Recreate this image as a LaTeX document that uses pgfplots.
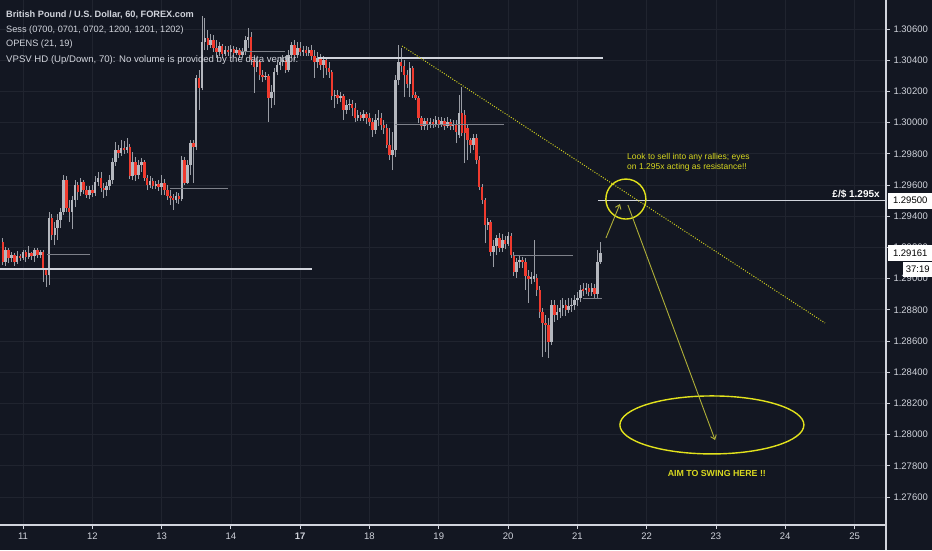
\documentclass[border=0pt]{standalone}
\usepackage{pgfplots}
\pgfplotsset{compat=1.18}
\usepackage{pgfplotstable}
\usepackage{fontspec}
\setmainfont{Liberation Sans}
\usetikzlibrary{arrows.meta}
\definecolor{bgc}{HTML}{131722}
\definecolor{gridc}{HTML}{20242F}
\definecolor{txtc}{HTML}{D1D4DC}
\definecolor{axc}{HTML}{D1D4DC}
\definecolor{upc}{HTML}{B4B7BE}
\definecolor{dnc}{HTML}{F03A2E}
\definecolor{wickc}{HTML}{9A9DA5}
\definecolor{linec}{HTML}{D1D4DC}
\definecolor{thinc}{HTML}{7D8089}
\definecolor{circc}{HTML}{E2E21C}
\definecolor{trendc}{HTML}{CFCF20}
\definecolor{arrc}{HTML}{AFAF38}
\definecolor{ytxt}{HTML}{D8D820}

% hourly candles: h = hour index (0 = start of the 11th), prices o/hi/lo/c
\pgfplotstableread{
h o hi lo c
-7 1.29235 1.29260 1.29087 1.29106
-6 1.29106 1.29203 1.29081 1.29183
-5 1.29183 1.29196 1.29100 1.29132
-4 1.29132 1.29171 1.29106 1.29151
-3 1.29151 1.29164 1.29081 1.29106
-2 1.29106 1.29177 1.29094 1.29145
-1 1.29145 1.29158 1.29113 1.29132
0 1.29132 1.29183 1.29119 1.29171
1 1.29171 1.29183 1.29106 1.29138
2 1.29138 1.29209 1.29126 1.29164
3 1.29164 1.29171 1.29119 1.29145
4 1.29145 1.29196 1.29106 1.29183
5 1.29183 1.29196 1.29132 1.29151
6 1.29151 1.29183 1.29132 1.29171
7 1.29171 1.29183 1.28978 1.29055
8 1.29055 1.29068 1.28946 1.29023
9 1.29023 1.29427 1.28959 1.29388
10 1.29388 1.29414 1.29247 1.29279
11 1.29279 1.29363 1.29215 1.29324
12 1.29324 1.29414 1.29247 1.29376
13 1.29376 1.29453 1.29324 1.29427
14 1.29427 1.29664 1.29408 1.29632
15 1.29632 1.29658 1.29427 1.29453
16 1.29453 1.29504 1.29363 1.29427
17 1.29427 1.29529 1.29318 1.29504
18 1.29504 1.29632 1.29459 1.29600
19 1.29600 1.29619 1.29504 1.29555
20 1.29555 1.29645 1.29529 1.29619
21 1.29619 1.29632 1.29542 1.29568
22 1.29568 1.29594 1.29517 1.29536
23 1.29536 1.29594 1.29510 1.29568
24 1.29568 1.29600 1.29523 1.29549
25 1.29549 1.29658 1.29529 1.29619
26 1.29619 1.29683 1.29594 1.29645
27 1.29645 1.29683 1.29555 1.29581
28 1.29581 1.29613 1.29517 1.29568
29 1.29568 1.29619 1.29529 1.29594
30 1.29594 1.29664 1.29568 1.29632
31 1.29632 1.29773 1.29606 1.29747
32 1.29747 1.29876 1.29722 1.29824
33 1.29824 1.29856 1.29773 1.29805
34 1.29805 1.29888 1.29786 1.29837
35 1.29837 1.29882 1.29799 1.29824
36 1.29824 1.29901 1.29805 1.29844
37 1.29844 1.29863 1.29638 1.29658
38 1.29658 1.29812 1.29632 1.29747
39 1.29747 1.29780 1.29626 1.29664
40 1.29664 1.29760 1.29638 1.29728
41 1.29728 1.29773 1.29683 1.29747
42 1.29747 1.29760 1.29626 1.29645
43 1.29645 1.29664 1.29568 1.29600
44 1.29600 1.29658 1.29581 1.29626
45 1.29626 1.29645 1.29574 1.29594
46 1.29594 1.29626 1.29574 1.29606
47 1.29606 1.29632 1.29562 1.29587
48 1.29587 1.29664 1.29536 1.29613
49 1.29613 1.29638 1.29536 1.29568
50 1.29568 1.29600 1.29504 1.29529
51 1.29529 1.29568 1.29472 1.29517
52 1.29517 1.29542 1.29440 1.29504
53 1.29504 1.29555 1.29485 1.29529
54 1.29529 1.29549 1.29478 1.29510
55 1.29510 1.29786 1.29497 1.29760
56 1.29760 1.29780 1.29600 1.29613
57 1.29613 1.29760 1.29606 1.29728
58 1.29728 1.29888 1.29664 1.29869
59 1.29869 1.29888 1.29613 1.29844
60 1.29844 1.30305 1.29824 1.30286
61 1.30286 1.30337 1.30081 1.30222
62 1.30222 1.30683 1.30209 1.30517
63 1.30517 1.30671 1.30465 1.30542
64 1.30542 1.30594 1.30465 1.30497
65 1.30497 1.30568 1.30478 1.30529
66 1.30529 1.30562 1.30453 1.30478
67 1.30478 1.30529 1.30414 1.30453
68 1.30453 1.30517 1.30427 1.30491
69 1.30491 1.30504 1.30414 1.30440
70 1.30440 1.30491 1.30427 1.30465
71 1.30465 1.30491 1.30427 1.30453
72 1.30453 1.30497 1.30427 1.30472
73 1.30472 1.30491 1.30421 1.30446
74 1.30446 1.30485 1.30433 1.30465
75 1.30465 1.30478 1.30414 1.30433
76 1.30433 1.30478 1.30414 1.30453
77 1.30453 1.30555 1.30433 1.30529
78 1.30529 1.30606 1.30478 1.30549
79 1.30549 1.30581 1.30369 1.30401
80 1.30401 1.30433 1.30190 1.30356
81 1.30356 1.30414 1.30324 1.30388
82 1.30388 1.30401 1.30273 1.30305
83 1.30305 1.30337 1.30260 1.30292
84 1.30292 1.30324 1.30273 1.30299
85 1.30299 1.30312 1.30004 1.30158
86 1.30158 1.30241 1.30094 1.30196
87 1.30196 1.30350 1.30113 1.30324
88 1.30324 1.30401 1.30305 1.30369
89 1.30369 1.30421 1.30337 1.30388
90 1.30388 1.30433 1.30363 1.30401
91 1.30401 1.30427 1.30318 1.30337
92 1.30337 1.30465 1.30324 1.30433
93 1.30433 1.30517 1.30414 1.30497
94 1.30497 1.30529 1.30401 1.30433
95 1.30433 1.30517 1.30414 1.30478
96 1.30478 1.30517 1.30427 1.30453
97 1.30453 1.30491 1.30427 1.30465
98 1.30465 1.30491 1.30427 1.30446
99 1.30446 1.30485 1.30427 1.30465
100 1.30465 1.30497 1.30401 1.30427
101 1.30427 1.30465 1.30286 1.30388
102 1.30388 1.30453 1.30350 1.30414
103 1.30414 1.30440 1.30337 1.30369
104 1.30369 1.30427 1.30286 1.30401
105 1.30401 1.30421 1.30305 1.30350
106 1.30350 1.30388 1.30286 1.30324
107 1.30324 1.30337 1.30145 1.30171
108 1.30171 1.30209 1.30094 1.30177
109 1.30177 1.30209 1.30119 1.30158
110 1.30158 1.30196 1.30132 1.30171
111 1.30171 1.30183 1.30017 1.30081
112 1.30081 1.30145 1.30055 1.30113
113 1.30113 1.30151 1.30081 1.30119
114 1.30119 1.30145 1.30042 1.30094
115 1.30094 1.30126 1.30004 1.30030
116 1.30030 1.30081 1.30010 1.30049
117 1.30049 1.30068 1.30010 1.30030
118 1.30030 1.30081 1.30010 1.30055
119 1.30055 1.30068 1.29991 1.30030
120 1.30030 1.30062 1.29978 1.30004
121 1.30004 1.30030 1.29908 1.29953
122 1.29953 1.30055 1.29927 1.30017
123 1.30017 1.30081 1.29978 1.30030
124 1.30030 1.30062 1.29953 1.29985
125 1.29985 1.30017 1.29927 1.29965
126 1.29965 1.29991 1.29837 1.29856
127 1.29856 1.29965 1.29760 1.29792
128 1.29792 1.29940 1.29696 1.29824
129 1.29824 1.30305 1.29780 1.30273
130 1.30273 1.30497 1.30241 1.30388
131 1.30388 1.30478 1.30324 1.30363
132 1.30363 1.30401 1.30164 1.30305
133 1.30305 1.30337 1.30222 1.30247
134 1.30247 1.30388 1.30164 1.30350
135 1.30350 1.30363 1.30158 1.30177
136 1.30177 1.30196 1.30145 1.30158
137 1.30158 1.30171 1.29997 1.30030
138 1.30030 1.30042 1.29953 1.29978
139 1.29978 1.30030 1.29953 1.30010
140 1.30010 1.30030 1.29953 1.29985
141 1.29985 1.30030 1.29965 1.30004
142 1.30004 1.30023 1.29965 1.29991
143 1.29991 1.30042 1.29972 1.30017
144 1.30017 1.30036 1.29965 1.29991
145 1.29991 1.30036 1.29972 1.30010
146 1.30010 1.30030 1.29953 1.29978
147 1.29978 1.30036 1.29965 1.30004
148 1.30004 1.30023 1.29953 1.29978
149 1.29978 1.30017 1.29953 1.29991
150 1.29991 1.30017 1.29869 1.29940
151 1.29921 1.30177 1.29901 1.30062
152 1.30062 1.30228 1.29914 1.29933
153 1.30049 1.30081 1.29741 1.29933
154 1.29965 1.29985 1.29760 1.29888
155 1.29888 1.29901 1.29805 1.29856
156 1.29856 1.29927 1.29824 1.29901
157 1.29901 1.29927 1.29735 1.29760
158 1.29760 1.29786 1.29568 1.29587
159 1.29587 1.29606 1.29478 1.29504
160 1.29504 1.29517 1.29228 1.29344
161 1.29344 1.29388 1.29312 1.29363
162 1.29363 1.29376 1.29145 1.29171
163 1.29171 1.29247 1.29074 1.29209
164 1.29209 1.29279 1.29151 1.29260
165 1.29260 1.29292 1.29171 1.29196
166 1.29196 1.29286 1.29171 1.29247
167 1.29247 1.29273 1.29190 1.29222
168 1.29222 1.29299 1.29209 1.29273
169 1.29273 1.29292 1.29132 1.29151
170 1.29151 1.29171 1.29017 1.29042
171 1.29042 1.29132 1.29004 1.29106
172 1.29106 1.29151 1.29068 1.29119
173 1.29119 1.29138 1.29068 1.29106
174 1.29106 1.29132 1.28927 1.29017
175 1.29017 1.29055 1.28844 1.28998
176 1.28998 1.29042 1.28965 1.29010
177 1.28998 1.29247 1.28978 1.29017
178 1.29004 1.29030 1.28889 1.28927
179 1.28927 1.28953 1.28748 1.28786
180 1.28786 1.28812 1.28497 1.28715
181 1.28715 1.28767 1.28530 1.28703
182 1.28703 1.28748 1.28491 1.28594
183 1.28594 1.28863 1.28574 1.28831
184 1.28831 1.28863 1.28722 1.28767
185 1.28767 1.28831 1.28735 1.28786
186 1.28786 1.28863 1.28748 1.28812
187 1.28812 1.28876 1.28761 1.28831
188 1.28831 1.28863 1.28761 1.28799
189 1.28799 1.28876 1.28780 1.28824
190 1.28824 1.28876 1.28786 1.28831
191 1.28831 1.28895 1.28799 1.28863
192 1.28863 1.28914 1.28824 1.28876
193 1.28876 1.28959 1.28850 1.28927
194 1.28934 1.28972 1.28889 1.28921
195 1.28927 1.28972 1.28901 1.28940
196 1.28940 1.28965 1.28889 1.28914
197 1.28914 1.28972 1.28889 1.28940
198 1.28940 1.28965 1.28876 1.28901
199 1.28901 1.29183 1.28876 1.29106
200 1.29106 1.29235 1.29094 1.29161
}\candles

\begin{document}
\begin{tikzpicture}
\useasboundingbox (0,0) rectangle (932pt,550pt);
\fill[bgc] (0,0) rectangle (932pt,550pt);
% y axis unit: pips relative to 1.29000
\begin{axis}[
  at={(0pt,25pt)}, anchor=south west, scale only axis,
  width=886pt, height=525pt,
  xmin=-7.97, xmax=298.9, ymin=-157.95, ymax=178.6,
  axis x line=bottom, axis y line=right,
  axis line style={-, draw=axc, line width=1.1pt},
  tick align=outside, major tick length=4pt,
  tick style={draw=axc, line width=0.8pt},
  xtick={0,24,48,72,96,120,144,168,192,216,240,264,288},
  xticklabels={11,12,13,14,\textbf{17},18,19,20,21,22,23,24,25},
  ytick={-140,-120,-100,-80,-60,-40,-20,0,20,40,60,80,100,120,140,160},
  yticklabels={1.27600,1.27800,1.28000,1.28200,1.28400,1.28600,1.28800,1.29000,1.29200,1.29400,1.29600,1.29800,1.30000,1.30200,1.30400,1.30600},
  tick label style={font=\fontsize{9.5}{10}\selectfont, text=txtc},
  grid=major, major grid style={draw=gridc, line width=0.7pt},
  clip=false,
]
% wicks
\addplot[draw=none, forget plot, error bars/.cd, y dir=plus, y explicit, error mark=none,
  error bar style={draw=wickc, line width=0.9pt, solid}]
  table[x=h, y expr={(\thisrow{lo}-1.29)*10000}, y error plus expr={(\thisrow{hi}-\thisrow{lo})*10000}] {\candles};
% up bodies
\addplot[draw=none, forget plot, restrict expr to domain={(\thisrow{c}-\thisrow{o})*10000}{0:1000},
  error bars/.cd, y dir=plus, y explicit, error mark=none,
  error bar style={draw=upc, line width=2.5pt, solid}]
  table[x=h, y expr={(min(\thisrow{o},\thisrow{c})-1.29)*10000}, y error plus expr={abs(\thisrow{c}-\thisrow{o})*10000}] {\candles};
% down bodies
\addplot[draw=none, forget plot, restrict expr to domain={(\thisrow{c}-\thisrow{o})*10000}{-1000:-0.01},
  error bars/.cd, y dir=plus, y explicit, error mark=none,
  error bar style={draw=dnc, line width=2.5pt, solid}]
  table[x=h, y expr={(min(\thisrow{o},\thisrow{c})-1.29)*10000}, y error plus expr={abs(\thisrow{c}-\thisrow{o})*10000}] {\candles};

% session open lines (thin)
\addplot[draw=thinc, line width=0.8pt] coordinates {(8.3,15.8) (23.2,15.8)};
\addplot[draw=thinc, line width=0.8pt] coordinates {(50.9,58.1) (71.0,58.1)};
\addplot[draw=thinc, line width=0.8pt] coordinates {(75.2,145.9) (90.7,145.9)};
\addplot[draw=thinc, line width=0.8pt] coordinates {(129.0,99.0) (166.6,99.0)};
\addplot[draw=thinc, line width=0.8pt] coordinates {(169.7,15.1) (190.5,15.1)};
\addplot[draw=thinc, line width=0.8pt] coordinates {(193.9,-12.4) (200.5,-12.4)};
% thick horizontal levels
\addplot[draw=linec, line width=1.8pt] coordinates {(-7.97,6.2) (100.1,6.2)};
\addplot[draw=linec, line width=1.8pt] coordinates {(102.2,141.4) (200.9,141.4)};
\addplot[draw=linec, line width=1.5pt] coordinates {(199.1,50) (298.9,50)};
% trend line
\addplot[draw=trendc, line width=1pt, dash pattern=on 1pt off 1.5pt] coordinates {(131.3,149.1) (277.8,-28.5)};

% annotations
\draw[circc, line width=1.4pt] (axis cs:208.8,51.0) circle[radius=20pt];
\draw[circc, line width=1.4pt] (axis cs:238.6,-93.8) ellipse[x radius=92pt, y radius=29pt];
\draw[arrc, line width=0.9pt, -{Straight Barb[length=4pt,width=6pt]}] (axis cs:201.9,26.0) -- (axis cs:206.75,47.8);
\draw[arrc, line width=0.9pt, -{Straight Barb[length=4pt,width=6pt]}] (axis cs:209.5,47.2) -- (axis cs:239.7,-103.5);
\node[anchor=west, inner sep=0pt, text=ytxt, align=left, font=\fontsize{8.5}{10}\selectfont] at (axis cs:209.2,74.7) {Look to sell into any rallies; eyes\\on 1.295x acting as resistance!!};
\node[inner sep=0pt, text=ytxt, font=\bfseries\fontsize{8.8}{10}\selectfont] at (axis cs:240.3,-125.2) {AIM TO SWING HERE !!};
\node[anchor=east, inner sep=0pt, text=white, font=\bfseries\fontsize{10}{11}\selectfont] at (axis cs:296.8,54.2) {\pounds/\$ 1.295x};

% right axis boxes
\node[fill=white, text=black, anchor=west, minimum width=44pt, minimum height=16pt, inner sep=0pt, font=\fontsize{9.5}{10}\selectfont] at ([xshift=2pt]axis cs:298.9,50) {1.29500};
\node[fill=white, text=black, anchor=west, minimum width=44pt, minimum height=16pt, inner sep=0pt, font=\fontsize{9.5}{10}\selectfont] (cp) at ([xshift=2pt]axis cs:298.9,16.1) {1.29161};
\node[fill=white, text=black, anchor=north east, minimum width=29pt, minimum height=15pt, inner sep=0pt, font=\fontsize{9.5}{10}\selectfont] at (cp.south east) {37:19};
\draw[axc, line width=1.1pt] (axis cs:298.9,-157.95) -- ++(0pt,-25pt);
\end{axis}
\node[anchor=west, inner sep=0pt, text=txtc, font=\bfseries\fontsize{9.2}{10}\selectfont] at (6pt,535pt) {British Pound / U.S. Dollar, 60, FOREX.com};
\node[anchor=west, inner sep=0pt, text=txtc, font=\fontsize{9.2}{10}\selectfont] at (6pt,520pt) {Sess (0700, 0701, 0702, 1200, 1201, 1202)};
\node[anchor=west, inner sep=0pt, text=txtc, font=\fontsize{9.2}{10}\selectfont] at (6pt,505.5pt) {OPENS (21, 19)};
\node[anchor=west, inner sep=0pt, text=txtc, font=\fontsize{9.6}{10}\selectfont] at (6pt,490pt) {VPSV HD (Up/Down, 70): No volume is provided by the data vendor.};
\end{tikzpicture}
\end{document}
